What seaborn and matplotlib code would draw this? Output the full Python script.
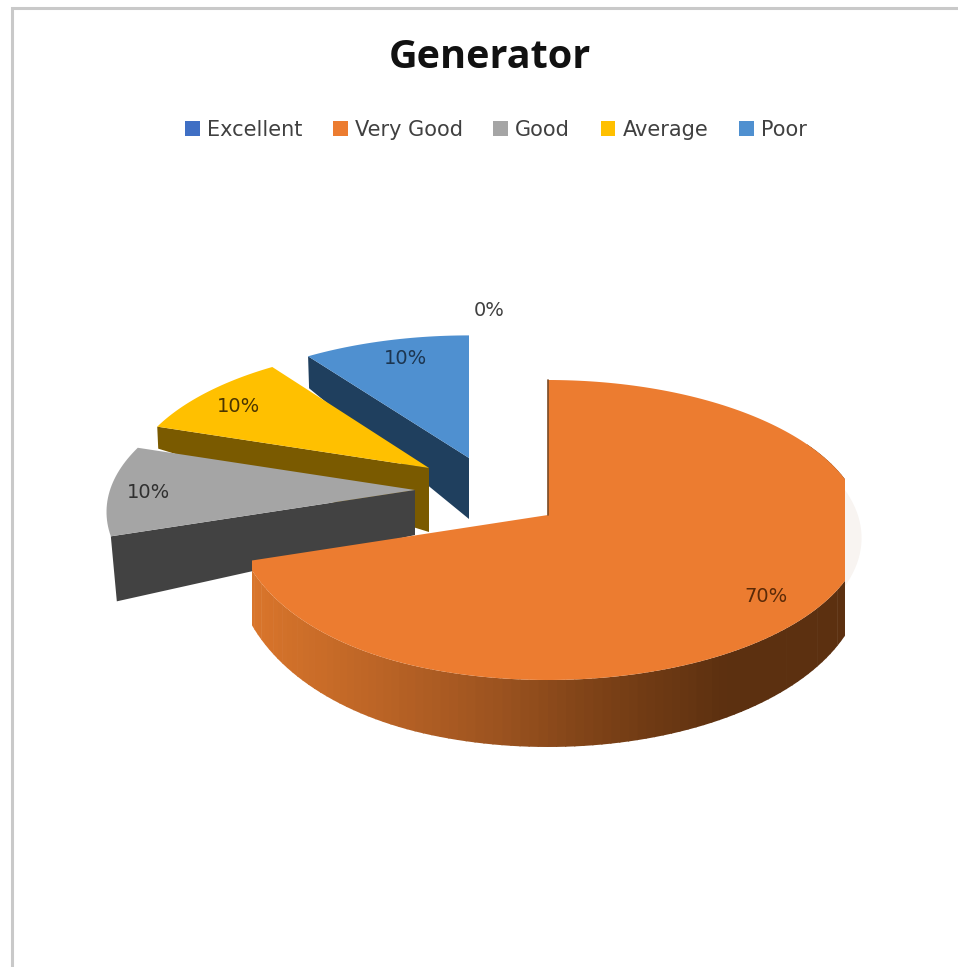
# 3D style pie of the Generator ratings
import numpy as np
import matplotlib
matplotlib.use("Agg")
import matplotlib.pyplot as plt
from matplotlib.colors import LinearSegmentedColormap
from matplotlib.patches import Patch, Polygon, Rectangle
import seaborn as sns

# Data
categories = ["Excellent", "Very Good", "Good", "Average", "Poor"]
percents = [0, 70, 10, 10, 10]

top_colors = sns.color_palette(["#3F6FC4", "#EC7C30", "#A5A5A5", "#FFC000", "#4F90D0"])
face_colors = {"Good": "#424242", "Average": "#7A5A00", "Poor": "#1F3F5E"}

# Layout, in pixels of the 958x967 picture
center = (548, 515)
# slice: (tip shift x, tip shift y, radius x, radius y, perspective)
slice_shape = {
    "Very Good": (0, 0, 314, 148.5, 0.10),
    "Good": (-133, -25, 305, 143, 0.15),
    "Average": (-119, -47, 299, 140, 0.15),
    "Poor": (-79, -57, 307, 141, 0.15),
}
# side face depth at the tip and at the far corner
face_depth = {"Good": (45, 65), "Average": (64, 22), "Poor": (61, 32)}
label_pos = {"Excellent": (489, 310), "Very Good": (766, 596), "Good": (149, 492),
             "Average": (239, 406), "Poor": (406, 358)}
label_colors = {"Excellent": "#404040", "Very Good": "#5a2a08", "Good": "#303030",
                "Average": "#4a3500", "Poor": "#1c3550"}


def project(theta, name):
    # angle in degrees clockwise from 12 o'clock -> picture pixels
    dx, dy, rx, ry, k = slice_shape[name]
    t = np.radians(theta)
    s = 1 / (1 + k * np.cos(t))
    x = center[0] + dx + rx * np.sin(t) * s
    y = center[1] + dy - ry * np.cos(t) * s
    return x, y


def big_rim(theta):
    # the rim of the big slice flattens towards its left end
    x, y = project(theta, "Very Good")
    lift = 16 * (np.clip(np.asarray(theta) - 200, 0, None) / 52) ** 2
    return x, y - lift


def side_depth(theta):
    return 46 - 21 * np.cos(np.radians(theta))


sns.set_theme(style="white")
plt.rcParams["font.family"] = ["DejaVu Sans"]

fig = plt.figure(figsize=(9.58, 9.67), dpi=100)
ax = fig.add_axes([0, 0, 1, 1])
ax.set_xlim(0, 958)
ax.set_ylim(967, 0)
ax.axis("off")

# chart frame, only left and top are in the crop
ax.plot([12, 12, 958], [967, 8, 8], color="#c9c9c9", lw=2.2, solid_joinstyle="miter")

# angle ranges from the values
ends = np.cumsum(percents) * 3.6
starts = ends - np.array(percents) * 3.6
ranges = dict(zip(categories, zip(starts, ends)))
colors = dict(zip(categories, top_colors))

# the clipped off rim of the big slice leaves a pale ghost on the right
ghost = np.linspace(55, 125, 40)
gx, gy = project(ghost, "Very Good")
ax.add_patch(Polygon(np.column_stack([gx - 2, gy + 8]), closed=True, fc="#f8f4f1", ec="none", zorder=1))

# exploded slices, back to front
for z, name in enumerate(["Poor", "Average", "Good"]):
    a, b = ranges[name]
    arc = np.linspace(a, b, 30)
    xs, ys = project(arc, name)
    tip = (center[0] + slice_shape[name][0], center[1] + slice_shape[name][1])
    d_tip, d_far = face_depth[name]

    # face below the upper or lower cut of the slice
    far = (xs[0], ys[0])
    if name == "Good":
        low = (far[0] + 6, far[1] + d_far)
    else:
        low = (far[0] + 1, far[1] + d_far)
    face = [far, tip, (tip[0], tip[1] + d_tip), low]
    ax.add_patch(Polygon(face, closed=True, fc=face_colors[name], ec="none", zorder=2 + z * 2))

    top = np.vstack([[tip], np.column_stack([xs, ys])])
    ax.add_patch(Polygon(top, closed=True, fc=colors[name], ec="none", zorder=3 + z * 2))

# big slice, clipped by the plot area like in the source
clip = Rectangle((252, 300), 593, 500, transform=ax.transData)
a, b = ranges["Very Good"]
tip = center
shade = LinearSegmentedColormap.from_list(
    "rim", ["#d9752b", "#bd6526", "#9e5420", "#7a4016", "#5c3010", "#5c3010"]
)
angles = np.arange(a + 60, b - 6 + 1.5, 1.5)
for t0 in angles[:-1]:
    t1 = t0 + 1.7
    x0, y0 = big_rim(t0)
    x1, y1 = big_rim(t1)
    frac = ((x0 + x1) / 2 - 252) / 593
    strip = [(x0, y0), (x1, y1), (x1, y1 + side_depth(t1)), (x0, y0 + side_depth(t0))]
    p = Polygon(strip, closed=True, fc=shade(frac), ec="none", zorder=8)
    ax.add_patch(p)
    p.set_clip_path(clip)

# top surface: the straight cut keeps the true end angle, only the rim flattens
arc = np.linspace(a, b - 6, 200)
xs, ys = big_rim(arc)
top = np.vstack([[tip], np.column_stack([xs, ys]), [project(b, "Very Good")]])
p = Polygon(top, closed=True, fc=colors["Very Good"], ec="none", zorder=9)
ax.add_patch(p)
p.set_clip_path(clip)
ax.plot([tip[0], tip[0]], [ys[0], tip[1]], color="#7a4a25", lw=1.2, zorder=10)

# data labels
for name, value in zip(categories, percents):
    x, y = label_pos[name]
    ax.text(x, y, f"{value}%", ha="center", va="center", fontsize=14,
            color=label_colors[name], zorder=12)

# title and legend
ax.text(490, 57, "Generator", ha="center", va="center", fontsize=28.5, fontweight="bold",
        family="Open Sans", color="#111111")
handles = [Patch(fc=colors[c], ec="none", label=c) for c in categories]
leg = ax.legend(handles=handles, loc="center", bbox_to_anchor=(496 / 958, 1 - 130 / 967), ncol=5,
                frameon=False, fontsize=15, handlelength=0.7, handleheight=0.7,
                handletextpad=0.35, columnspacing=1.47, labelcolor="#404040")

fig.savefig("out.png", dpi=100)
